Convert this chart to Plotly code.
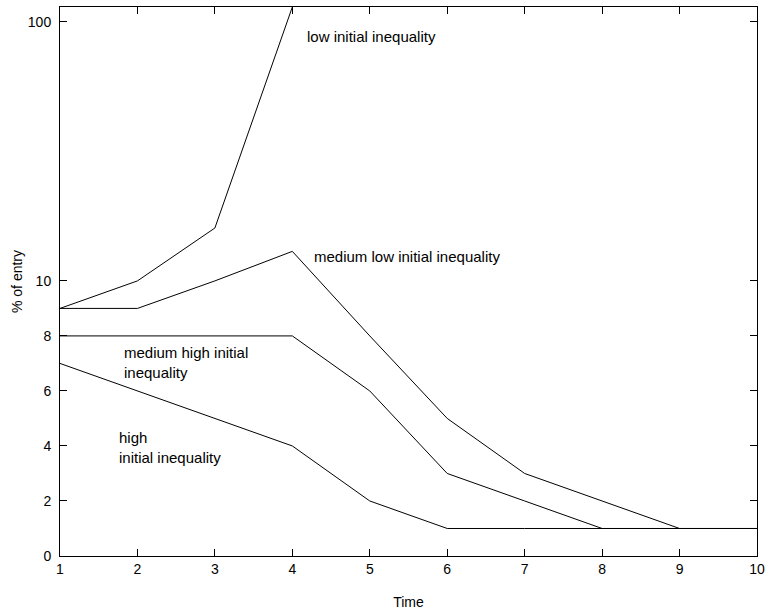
import numpy as np
import plotly.graph_objects as go

# ---- data ----
time = [1, 2, 3, 4, 5, 6, 7, 8, 9, 10]
low_time = [1, 2, 3, 4]
low_initial = [9, 10, 16, 114]
medium_low_initial = [9, 9, 10, 13, 8, 5, 3, 2, 1, 1]
medium_high_initial = [8, 8, 8, 8, 6, 3, 2, 1, 1, 1]
high_initial = [7, 6, 5, 4, 2, 1, 1, 1, 1, 1]
y_tick_values = [0, 2, 4, 6, 8, 10, 100]
y_tick_labels = ["0", "2", "4", "6", "8", "10", "100"]

# axis is linear up to 10 and logarithmic above (as in the reference)
DECADE = 9.42


def f(v):
    v = np.asarray(v, dtype=float)
    return np.where(v <= 10, v, 10 + np.log10(np.maximum(v, 1e-9) / 10) * DECADE)


fig = go.Figure()
line = dict(color="black", width=1)
for xs, ys in [(low_time, low_initial), (time, medium_low_initial),
               (time, medium_high_initial), (time, high_initial)]:
    fig.add_trace(go.Scatter(x=xs, y=f(ys), mode="lines", line=line,
                             showlegend=False, hoverinfo="skip"))

font = "Liberation Sans, Arial, Helvetica, sans-serif"
ann_font = dict(family=font, size=15, color="black")
annotations = [
    ("low initial inequality", 4.16, 18.9),
    ("medium low initial inequality", 4.25, 10.87),
    ("medium high initial<br>inequality", 1.80, 7.05),
    ("high<br>initial inequality", 1.74, 3.96),
]
for text, ax, ay in annotations:
    fig.add_annotation(x=ax, y=ay, text=text, showarrow=False, xanchor="left",
                       yanchor="middle", align="left", font=ann_font,
                       xref="x", yref="y")

fig.update_layout(
    width=765, height=613,
    margin=dict(l=60, r=8, t=7, b=57),
    paper_bgcolor="white", plot_bgcolor="white",
    font=dict(family=font, size=14, color="black"),
    xaxis=dict(range=[1, 10], tickmode="array", tickvals=time,
               ticks="inside", ticklen=7, tickcolor="black",
               showline=True, linecolor="black", linewidth=1, mirror="ticks",
               showgrid=False, zeroline=False, automargin=False,
               ticklabeloverflow="allow",
               title=dict(text="Time", standoff=21, font=dict(size=14))),
    yaxis=dict(range=[0, float(f(114))], tickmode="array",
               tickvals=list(f(y_tick_values)), ticktext=y_tick_labels,
               ticks="inside", ticklen=7, tickcolor="black",
               showline=True, linecolor="black", linewidth=1, mirror="ticks",
               showgrid=False, zeroline=False, ticklabelstandoff=5,
               automargin=False, ticklabeloverflow="allow",
               title=dict(text="% of entry", standoff=1, font=dict(size=14))),
)

fig.write_html("out.html",
               config={"displayModeBar": False},
               post_script="document.body.style.margin='0';"
                           "document.body.style.padding='0';")
